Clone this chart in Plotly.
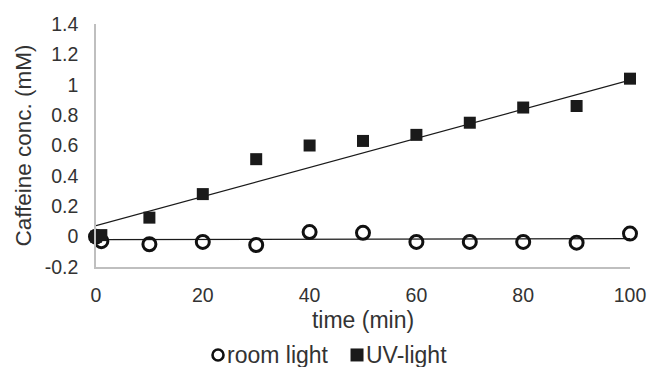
import plotly.graph_objects as go

time_min = [0, 1, 10, 20, 30, 40, 50, 60, 70, 80, 90, 100]
room_light = [0.0, -0.03, -0.05, -0.035, -0.055, 0.03, 0.025, -0.035, -0.035, -0.035, -0.04, 0.02]
uv_light = [0.0, 0.01, 0.125, 0.28, 0.51, 0.60, 0.63, 0.67, 0.75, 0.85, 0.86, 1.04]

# linear trendlines (end points as drawn in the source)
trend_x = [0, 100]
room_trend = [-0.02, -0.013]
uv_trend = [0.072, 1.03]

y_tickvals = [-0.2, 0, 0.2, 0.4, 0.6, 0.8, 1.0, 1.2, 1.4]
y_ticktext = ["-0.2", "0", "0.2", "0.4", "0.6", "0.8", "1", "1.2", "1.4"]
x_tickvals = [0, 20, 40, 60, 80, 100]
legend_names = ["room light", "UV-light"]

INK = "#1a1a1a"
TXT = "#333333"
font = "Liberation Sans, Arial, sans-serif"

fig = go.Figure()

for tr_y in (room_trend, uv_trend):
    fig.add_trace(go.Scatter(x=trend_x, y=tr_y, mode="lines",
                             line=dict(color=INK, width=1.3),
                             showlegend=False, hoverinfo="skip"))

fig.add_trace(go.Scatter(x=time_min, y=room_light, mode="markers", name=legend_names[0],
                         marker=dict(symbol="circle-open", size=13, color="#111111",
                                     line=dict(width=3, color="#111111"))))
fig.add_trace(go.Scatter(x=time_min, y=uv_light, mode="markers", name=legend_names[1],
                         marker=dict(symbol="square", size=12, color=INK)))
for tr in fig.data:
    tr.cliponaxis = False

# compact legend below the axes, drawn like the source (symbol right next to text)
leg_y = -0.362
fig.add_shape(type="circle", xref="paper", yref="paper", xsizemode="pixel", ysizemode="pixel",
              xanchor=0.2285, yanchor=leg_y, x0=-5.5, x1=5.5, y0=-5.5, y1=5.5,
              line=dict(color="#111111", width=2.6), fillcolor="rgba(0,0,0,0)")
fig.add_shape(type="rect", xref="paper", yref="paper", xsizemode="pixel", ysizemode="pixel",
              xanchor=0.4888, yanchor=leg_y, x0=-6.5, x1=6.5, y0=-6.5, y1=6.5,
              line=dict(width=0), fillcolor=INK)
for xpos, name in zip([0.2415, 0.5020], legend_names):
    fig.add_annotation(text=name, xref="paper", yref="paper", x=xpos, y=leg_y,
                       xanchor="left", yanchor="middle", showarrow=False,
                       font=dict(size=23, color=TXT, family=font))

fig.update_layout(
    width=652, height=367,
    margin=dict(l=96, r=22, t=24, b=100, autoexpand=False),
    paper_bgcolor="white", plot_bgcolor="white",
    font=dict(family=font, size=19, color=TXT),
    showlegend=False,
    xaxis=dict(range=[0, 100], tickvals=x_tickvals, showgrid=False, zeroline=False,
               showline=True, linecolor="#bfbfbf", linewidth=1.5, ticks="",
               ticklabelstandoff=10, automargin=False,
               title=dict(text="time (min)", standoff=7, font=dict(size=23)),
               tickfont=dict(size=19.5)),
    yaxis=dict(range=[-0.2, 1.4], tickvals=y_tickvals, ticktext=y_ticktext,
               showgrid=False, zeroline=False, showline=True, linecolor="#bfbfbf",
               linewidth=1.5, ticks="", ticklabelstandoff=12, automargin=False,
               title=dict(text="Caffeine conc. (mM)", standoff=7, font=dict(size=22.5)),
               tickfont=dict(size=19.5)),
)

fig.write_html("out.html")
